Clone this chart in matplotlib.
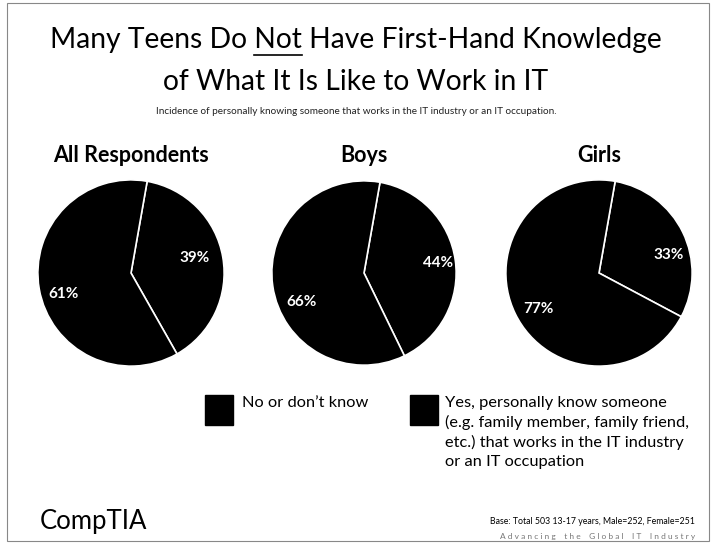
import matplotlib.pyplot as plt
from matplotlib.patches import Rectangle
from matplotlib.lines import Line2D

plt.rcParams['font.family'] = ['Lato', 'DejaVu Sans']

groups = ["All Respondents", "Boys", "Girls"]
yes_pct = [39, 44, 33]
no_pct = [61, 66, 77]
answers = ["Yes, personally know someone\n(e.g. family member, family friend,\netc.) that works in the IT industry\nor an IT occupation",
           "No or don\u2019t know"]
answer_colors = ["black", "black"]

fig = plt.figure(figsize=(7.12, 5.44), dpi=100)
W, H = 712, 544

# page frame
fig.add_artist(Rectangle((7 / W, 3 / H), 702 / W, 538 / H, transform=fig.transFigure,
                         fill=False, edgecolor="#888888", lw=0.8))

# title, with "Not" underlined
TS = 20.3
t1 = fig.text(0.5, 1 - 40 / H, "Many Teens Do Not Have First-Hand Knowledge",
              ha="center", va="center", fontsize=TS)
fig.text(0.5, 1 - 82 / H, "of What It Is Like to Work in IT",
         ha="center", va="center", fontsize=TS)
fig.text(0.5, 1 - 111 / H,
         "Incidence of personally knowing someone that works in the IT industry or an IT occupation.",
         ha="center", va="center", fontsize=7.2, color="#222222")

fig.canvas.draw()
r = fig.canvas.get_renderer()
full = t1.get_window_extent(r)
pre = fig.text(0, 0, "Many Teens Do ", fontsize=TS)
word = fig.text(0, 0, "Not", fontsize=TS)
x0 = full.x0 + pre.get_window_extent(r).width
x1 = x0 + word.get_window_extent(r).width
pre.remove()
word.remove()
fig.add_artist(Line2D([x0 / W, x1 / W], [1 - 55 / H, 1 - 55 / H],
                      transform=fig.transFigure, color="black", lw=1.2))

centers = [(131, 273, 95), (364, 273, 94), (599, 273, 95)]
# label positions inside each pie (radius units)
label_xy = [[(0.68, 0.16), (-0.72, -0.23)],
            [(0.80, 0.11), (-0.68, -0.32)],
            [(0.75, 0.19), (-0.65, -0.39)]]
for name, y, n, (cx, cy, rad), lxy in zip(groups, yes_pct, no_pct, centers, label_xy):
    ax = fig.add_axes([(cx - rad) / W, 1 - (cy + rad) / H, 2 * rad / W, 2 * rad / H])
    wedges, texts = ax.pie([y, n], colors=answer_colors, startangle=80, counterclock=False,
                           labels=[f"{y}%", f"{n}%"],
                           textprops=dict(color="white", fontsize=11, fontweight="bold"),
                           wedgeprops=dict(edgecolor="white", linewidth=1.2), radius=1)
    for t, p in zip(texts, lxy):
        t.set_position(p)
        t.set_ha("center")
        t.set_va("center")
    ax.set_xlim(-1.02, 1.02)
    ax.set_ylim(-1.02, 1.02)
    ax.axis("off")
    fig.text(cx / W, 1 - 155 / H, name, ha="center", va="center",
             fontsize=15.5, fontweight="bold")

# legend
for (sx, lx), label, c in zip([(410, 445), (205, 242)], answers, answer_colors):
    fig.add_artist(Rectangle((sx / W, 1 - 425 / H), 28 / W, 30 / H,
                             transform=fig.transFigure, color=c))
    fig.text(lx / W, 1 - 396 / H, label, ha="left", va="top",
             fontsize=11.8, linespacing=1.42)

fig.text(40 / W, 1 - 521 / H, "CompTIA", ha="left", va="center", fontsize=18.5)
fig.text(695 / W, 1 - 521 / H, "Base: Total 503 13-17 years, Male=252, Female=251",
         ha="right", va="center", fontsize=6.3)
fig.text(695 / W, 1 - 537 / H,
         "A d v a n c i n g    t h e    G l o b a l    I T    I n d u s t r y",
         ha="right", va="center", fontsize=6, color="#777777")

fig.savefig("out.png", dpi=100)
